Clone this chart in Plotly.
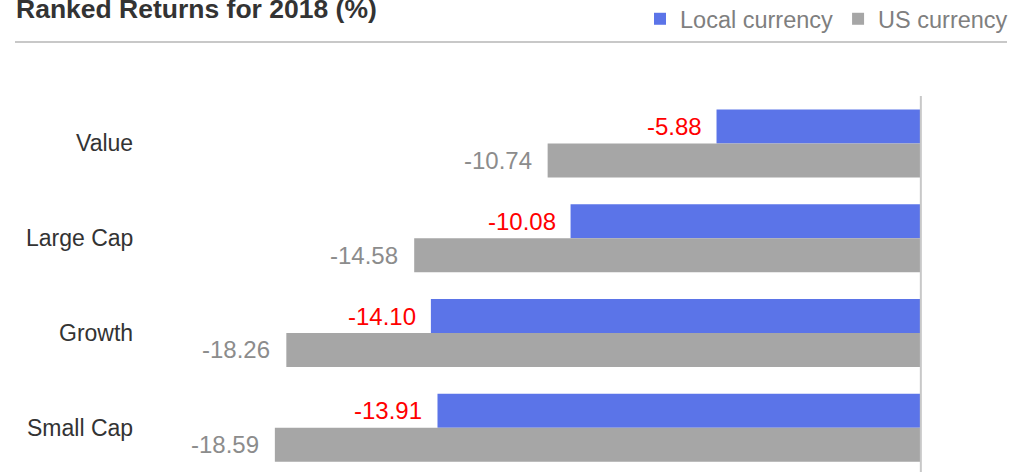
import plotly.graph_objects as go

categories = ["Value", "Large Cap", "Growth", "Small Cap"]
local_currency = [-5.88, -10.08, -14.10, -13.91]
us_currency = [-10.74, -14.58, -18.26, -18.59]
series_names = ["Local currency", "US currency"]
title_text = "Ranked Returns for 2018 (%)"

BLUE = "#5b74e8"
GREY = "#a6a6a6"
FONT = "Liberation Sans, Arial, sans-serif"
W, H = 1023, 472
TOP = 96

fig = go.Figure()
fig.add_trace(go.Bar(y=categories, x=local_currency, orientation="h", name=series_names[0],
                     marker=dict(color=BLUE, line=dict(width=0))))
fig.add_trace(go.Bar(y=categories, x=us_currency, orientation="h", name=series_names[1],
                     marker=dict(color=GREY, line=dict(width=0))))

ann = []
off = 0.179
for i, cat in enumerate(categories):
    ann.append(dict(x=135 / W, xref="paper", y=i, yref="y", text=cat, showarrow=False,
                    xanchor="right", yanchor="middle", font=dict(size=23, color="#333333", family=FONT)))
    ann.append(dict(x=local_currency[i], xref="x", y=i - off, yref="y", text=f"{local_currency[i]:.2f}",
                    showarrow=False, xanchor="right", yanchor="middle", xshift=-13,
                    font=dict(size=24, color="#ff0000", family=FONT)))
    ann.append(dict(x=us_currency[i], xref="x", y=i + off, yref="y", text=f"{us_currency[i]:.2f}",
                    showarrow=False, xanchor="right", yanchor="middle", xshift=-14,
                    font=dict(size=24, color="#8c8c8c", family=FONT)))

ann.append(dict(x=14 / W, xref="paper", y=1 + (TOP - 9) / (H - TOP), yref="paper", text=f"<b>{title_text}</b>",
                showarrow=False, xanchor="left", yanchor="middle",
                font=dict(size=26.5, color="#333333", family=FONT)))

fig.update_layout(
    width=W, height=H,
    margin=dict(l=0, r=0, t=TOP, b=0),
    paper_bgcolor="white", plot_bgcolor="white",
    barmode="group", bargap=0.283, bargroupgap=0,
    xaxis=dict(range=[-26.5, 2.94], showgrid=False, zeroline=False, showticklabels=False, ticks=""),
    yaxis=dict(range=[3.466, -0.5], showgrid=False, zeroline=False, showticklabels=False, ticks=""),
    annotations=ann,
    showlegend=True,
    legend=dict(orientation="h", xref="container", yref="container", x=1 - 10 / W, xanchor="right",
                y=1 - 19 / H, yanchor="middle", font=dict(size=23.5, color="#7f7f7f", family=FONT),
                bgcolor="rgba(0,0,0,0)", itemwidth=30),
    shapes=[
        dict(type="line", xref="paper", yref="paper", x0=15 / W, x1=1007 / W,
             y0=1 + (TOP - 42) / (H - TOP), y1=1 + (TOP - 42) / (H - TOP),
             line=dict(color="#c8c8c8", width=2)),
        dict(type="line", xref="x", yref="paper", x0=0, x1=0, y0=0, y1=1,
             line=dict(color="#c8c8c8", width=2)),
    ],
)

fig.write_html("out.html", config={"displayModeBar": False},
               post_script="document.body.style.margin='0px';")
